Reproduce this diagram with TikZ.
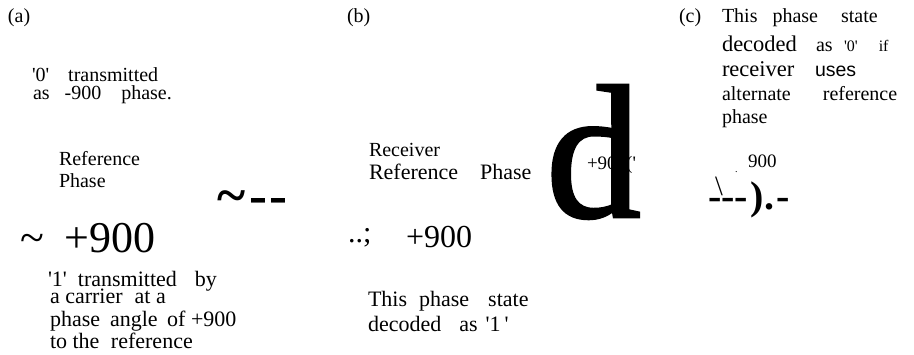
\documentclass[tikz,border=0pt]{standalone}
\usepackage{fontspec}
\setmainfont{Liberation Serif}
\setsansfont{Liberation Sans}
\newfontfamily\heavyserif[FakeBold=1.5]{Liberation Serif}
\usepackage{tikz}
\usetikzlibrary{positioning}
\newcommand{\sz}[1]{\fontsize{#1}{#1}\selectfont}
\newcommand{\sq}{\textquotesingle}
\tikzset{
  txt/.style={anchor=base west,inner sep=0pt,outer sep=0pt},
  body/.style={txt,font=\sz{20}},
  bodyl/.style={txt,font=\sz{22}},
  big/.style={txt,font=\sz{32}},
}

\begin{document}
\begin{tikzpicture}[x=1pt,y=-1pt]
\useasboundingbox (0,0) rectangle (914,355);

% panel (a)
\node[body] (tagA) at (8,23) {(a)};
\node[body] (zeroTx) at (32,82) {\sq0\sq\hspace{19pt}transmitted};
\node[body] (zeroPh) at (33,100) {as\hspace{15pt}-900\hspace{20pt}phase.};
\node[body] (refA) at (59,166) {Reference};
\node[body] (refPhA) at (59,188) {Phase};
\node[txt,font=\sz{54}\bfseries] (waveA) at (217,214) {\textasciitilde\hspace{4pt}-\hspace{2pt}-};
\node[txt,font=\sz{44}] (oneA) at (20,253) {\textasciitilde\hspace{21pt}+900};
\node[bodyl] (oneTx1) at (48,287) {\sq1\sq\hspace{11pt}transmitted\hspace{18pt}by};
\node[bodyl] (oneTx2) at (50,304) {a carrier\hspace{12pt}at a};
\node[bodyl] (oneTx3) at (50,327) {phase\hspace{10pt}angle\hspace{4pt} of +900};
\node[bodyl] (oneTx4) at (50,349) {to the\hspace{6pt} reference};

% panel (b)
\node[body] (tagB) at (347,23) {(b)};
\node[body] (rcv) at (369,157) {Receiver};
\node[bodyl] (rcvRef) at (369,180) {Reference\hspace{22pt}Phase};
\node[txt,font=\sz{30}] (dotsB) at (348,243) {..;};
\node[big] (oneB) at (406,248) {+900};
\node[txt,font=\sz{19}] (stB) at (587,170) {+900(\sq};
\node[txt,font=\heavyserif\sz{190}] (bigD) at (546,217) {d};
\node[bodyl] (decB1) at (368,307) {This\hspace{12pt}phase\hspace{19pt}state};
\node[bodyl] (decB2) at (368,332) {decoded\hspace{18pt}as\hspace{8pt}\sq1\hspace{4pt}\sq};

% panel (c)
\node[body] (tagC) at (679,23) {(c)};
\node[body] (decC1) at (722,23) {This\hspace{15pt}phase\hspace{23pt}state};
\node[txt,font=\sz{22.5}] (decC2) at (722,52) {decoded};
\node[body] (asC) at (816,52) {as};
\node[txt,font=\sz{16}] (zeroC) at (844,52) {\sq0\sq\hspace{21pt}if};
\node[txt,font=\sz{22.5}] (rcvC) at (722,77) {receiver};
\node[txt,font=\sffamily\sz{19.5}] (usesC) at (815,77) {uses};
\node[body] (altC) at (722,101) {alternate\hspace{32pt}reference};
\node[body] (phC) at (722,124) {phase};
\node[txt,font=\sz{19}] (ninC) at (748,168) {900};
\node[txt,font=\sz{28}] (tickC) at (715,196) {\textbackslash};
\node[txt,font=\sz{10}] (dotC) at (735,173) {.};
\node[txt,font=\sz{40}\bfseries] (dashC) at (708,210) {-{}-{}-\hspace{3pt}).\hspace{2pt}-};
\end{tikzpicture}
\end{document}
